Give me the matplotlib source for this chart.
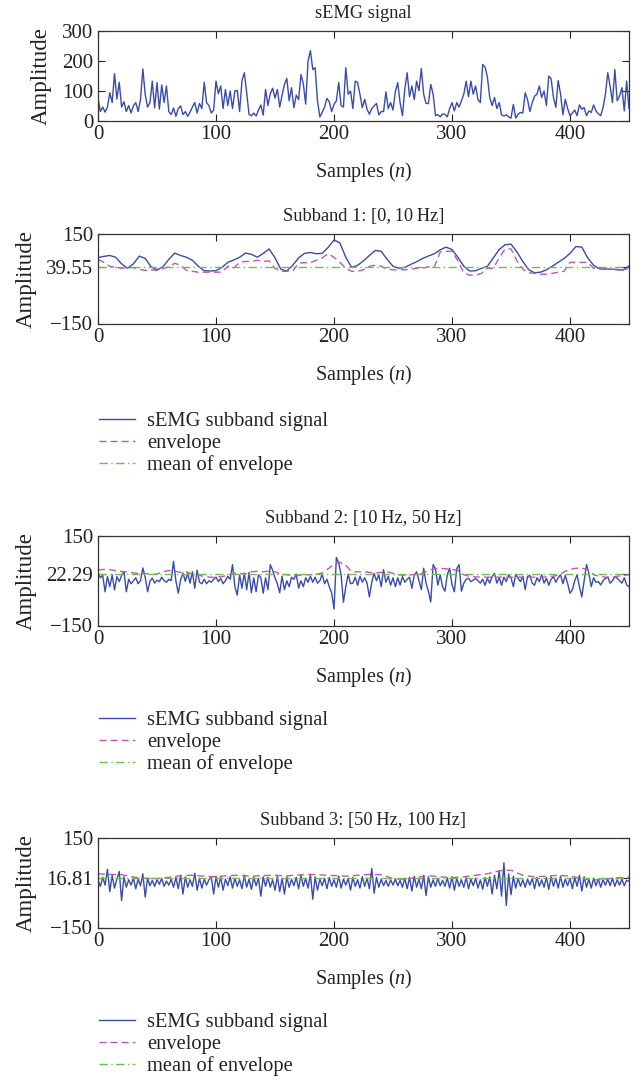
import numpy as np
import matplotlib
matplotlib.use("Agg")
import matplotlib.pyplot as plt

# fonts: serif like the paper
plt.rcParams['font.family'] = ['Liberation Serif', 'DejaVu Serif']
plt.rcParams['mathtext.fontset'] = 'custom'
plt.rcParams['mathtext.rm'] = 'Liberation Serif'
plt.rcParams['mathtext.it'] = 'Liberation Serif:italic'
plt.rcParams['font.size'] = 14.5

# ---------------- data ----------------
# raw sEMG signal, every 2nd sample (n = 0, 2, ..., 450)
raw_values = [
    74, 30, 45, 28, 45, 93, 60, 157, 72, 128,
    45, 63, 30, 50, 25, 49, 60, 30, 70, 173,
    88, 45, 60, 132, 42, 127, 38, 119, 60, 116,
    30, 20, 42, 14, 40, 49, 20, 30, 14, 28,
    45, 60, 25, 57, 40, 128, 60, 50, 25, 35,
    132, 90, 116, 40, 104, 50, 99, 40, 99, 101,
    30, 134, 160, 93, 20, 16, 25, 15, 35, 52,
    18, 104, 50, 90, 108, 75, 104, 45, 85, 121,
    141, 66, 110, 43, 85, 70, 154, 123, 55, 199,
    234, 171, 177, 66, 12, 27, 45, 74, 63, 30,
    54, 66, 127, 50, 45, 177, 88, 99, 40, 132,
    127, 88, 43, 71, 38, 21, 40, 49, 57, 19,
    30, 30, 96, 40, 60, 35, 97, 127, 60, 16,
    105, 160, 80, 116, 70, 132, 100, 174, 88, 57,
    57, 121, 88, 16, 20, 12, 22, 21, 12, 40,
    60, 32, 60, 45, 66, 88, 132, 80, 132, 88,
    116, 70, 60, 188, 179, 146, 77, 50, 77, 40,
    60, 19, 15, 19, 12, 8, 54, 8, 21, 27,
    25, 93, 70, 30, 60, 82, 88, 116, 77, 99,
    50, 149, 140, 77, 44, 134, 88, 19, 71, 40,
    16, 25, 35, 16, 52, 38, 43, 16, 32, 27,
    52, 32, 23, 16, 43, 88, 160, 115, 60, 171,
    66, 82, 110, 32, 132, 40,
]

# subband 1 signal and envelope, every 5th sample
sub1_signal = [
    71, 75, 78, 72, 50, 35, 50, 76, 68, 40,
    30, 40, 65, 86, 78, 72, 62, 42, 27, 26,
    27, 38, 55, 63, 72, 86, 82, 72, 85, 100,
    70, 32, 26, 45, 70, 85, 88, 84, 85, 105,
    130, 120, 72, 38, 45, 60, 78, 95, 92, 65,
    42, 35, 38, 48, 57, 68, 76, 84, 97, 106,
    98, 72, 42, 26, 27, 35, 42, 70, 98, 114,
    116, 90, 58, 30, 20, 22, 30, 42, 55, 68,
    85, 108, 106, 70, 45, 33, 33, 32, 30, 29,
    43,
]
sub1_envelope = [
    65, 55, 42, 38, 35, 38, 37, 32, 28, 30,
    28, 34, 40, 52, 45, 28, 25, 22, 22, 22,
    22, 22, 42, 36, 55, 58, 58, 62, 58, 60,
    35, 25, 25, 25, 52, 54, 54, 62, 70, 84,
    72, 55, 35, 25, 25, 30, 42, 45, 42, 32,
    30, 30, 30, 32, 35, 35, 40, 40, 90, 92,
    92, 60, 20, 12, 12, 18, 35, 35, 70, 100,
    100, 60, 32, 20, 18, 15, 15, 18, 22, 25,
    55, 55, 55, 55, 35, 33, 32, 32, 32, 30,
    35,
]
sub1_mean = 39.55

# subband 2 signal every 2nd sample, envelope every 5th sample
sub2_signal = [
    26, 10, 18, -37, 14, -20, 20, -31, 14, -3,
    18, 31, -37, 5, -10, 0, 10, -10, 0, 43,
    12, -37, -2, 9, -8, 2, -3, 12, 0, -5,
    5, 0, 65, 0, -42, 3, 26, -2, 26, -8,
    30, -25, 35, -5, -10, 5, -10, 0, -5, 5,
    12, -3, 8, -10, 0, 15, 5, 54, -20, -48,
    20, -25, 26, -30, 28, -40, 10, -37, 20, 10,
    -42, 10, -30, 54, 35, 10, -10, -40, 15, -30,
    0, -20, 12, 5, 22, -25, 0, -20, 10, -5,
    15, -5, 12, -8, 0, 22, -10, 5, -20, -40,
    -95, 78, 60, 20, -72, -20, 22, -10, -8, 12,
    -15, 15, -5, 10, -8, -54, -5, 25, 0, 20,
    -20, 37, -5, 15, -15, 10, -20, 10, -15, 14,
    -5, 5, 12, -25, 18, 30, 0, -30, 42, -8,
    -35, -71, 54, 40, -15, 20, -20, -35, 20, 42,
    -13, -37, 40, 54, -35, -8, 5, 8, -3, 2,
    8, 0, -8, 5, -15, 8, -8, 14, 25, -8,
    10, -15, 12, -3, 20, 10, -20, 22, 8, -3,
    15, -30, 14, 18, -8, -15, 10, -3, 20, -8,
    8, -15, 5, 14, -5, 10, 20, -10, 18, -10,
    -42, -30, 0, 20, -20, -54, 0, 54, 25, -20,
    10, -5, -3, -14, 0, 8, 12, -8, 0, 14,
    8, 0, -8, 10, -14, -20,
]
sub2_envelope = [
    36, 38, 37, 34, 31, 30, 26, 25, 24, 22,
    22, 30, 34, 32, 28, 30, 22, 18, 15, 12,
    12, 14, 18, 25, 24, 22, 30, 32, 30, 32,
    30, 22, 20, 18, 18, 20, 20, 22, 26, 40,
    55, 62, 52, 30, 30, 30, 28, 26, 28, 30,
    25, 20, 18, 20, 22, 25, 35, 40, 42, 40,
    38, 35, 20, 14, 13, 12, 12, 12, 12, 12,
    12, 12, 12, 12, 12, 12, 13, 15, 18, 30,
    38, 42, 42, 38, 20, 15, 12, 12, 15, 18,
    20,
]
sub2_mean = 22.29

# subband 3 signal every 2nd sample, envelope every 10th sample
sub3_signal = [
    8, -12, 18, -8, 45, -30, 25, -18, 12, 38,
    -60, 20, -15, 10, -8, 15, -20, 12, -10, 30,
    -48, 15, -10, 8, -12, 10, -5, 15, -12, 6,
    -8, 12, -15, 18, -20, 25, -38, 20, -15, 10,
    -12, 32, -25, 15, -18, 12, -8, 10, 20, -38,
    22, -15, 18, -25, 12, -10, 20, -18, 15, -12,
    10, -20, 25, -15, 12, -22, 18, -10, 15, -45,
    20, -12, 18, -15, 10, -25, 22, -30, 15, -38,
    20, -15, 12, -10, 18, -20, 25, -12, 15, -18,
    28, -55, 20, -25, 12, -10, 15, -20, 18, -12,
    10, -15, 22, -18, 12, -8, 15, -25, 18, -12,
    10, -18, 20, -12, 15, -20, 48, -35, 18, -15,
    12, -10, 8, -12, 10, -8, 12, -10, 8, -15,
    15, -20, 18, -28, 22, -15, 12, -20, 25, -43,
    20, -15, 10, -12, 15, -10, 8, -12, 15, -18,
    20, -25, 15, -12, 10, -15, 18, -20, 12, -10,
    15, -18, 10, -22, 18, -12, 20, -38, 25, -20,
    40, -45, 67, -76, 30, -40, 22, -18, 15, -12,
    10, -15, 12, -8, 15, -20, 18, -12, 10, -15,
    18, -22, 20, -12, 15, -18, 22, -15, 12, -10,
    15, -20, 18, -12, 25, -28, 20, -15, 12, -18,
    15, -10, 12, -15, 10, -8, 12, -10, 15, -12,
    10, -8, 12, -10, 8, 5,
]
sub3_envelope = [
    30, 28, 27, 19, 15, 14, 18, 24, 25, 22,
    20, 24, 25, 22, 24, 25, 23, 26, 28, 26,
    24, 22, 25, 28, 27, 14, 11, 18, 24, 20,
    17, 20, 25, 30, 40, 42, 25, 20, 22, 25,
    22, 14, 9, 12, 17, 18,
]
sub3_mean = 16.81

titles = ["sEMG signal", "Subband 1: [0,\u200910\u2009Hz]",
          "Subband 2: [10\u2009Hz, 50\u2009Hz]", "Subband 3: [50\u2009Hz, 100\u2009Hz]"]
legend_labels = ["sEMG subband signal", "envelope", "mean of envelope"]

# colours
blue = "#3a4ca6"
magenta = "#c356b4"
green = "#6cc244"

# sample axes for each series
n_raw = np.arange(len(raw_values)) * 2
n_sub1 = np.arange(len(sub1_signal)) * 5
n_sub23 = np.arange(len(sub2_signal)) * 2
n_env2 = np.arange(len(sub2_envelope)) * 5
n_env3 = np.arange(len(sub3_envelope)) * 10

fig = plt.figure(figsize=(6.44, 10.87), dpi=100)

W, H = 644.0, 1087.0
left, right = 98 / W, 629 / W
tops = [31, 234, 536, 838]
ax_h = 89.5

axes = []
for t in tops:
    ax = fig.add_axes([left, 1 - (t + ax_h) / H, right - left, ax_h / H])
    axes.append(ax)


def style_axis(ax, title):
    ax.set_xlim(0, 450)
    ax.set_xticks([0, 100, 200, 300, 400])
    ax.tick_params(direction="in", top=True, right=True, length=5, width=0.8,
                   colors="#222222", labelcolor="#222222", labelsize=15)
    for sp in ax.spines.values():
        sp.set_linewidth(0.9)
        sp.set_color("#333333")
    ax.set_title(title, pad=9, color="#222222", fontsize=13.2)
    ax.set_xlabel("Samples ($n$)", labelpad=11, color="#222222")
    ax.set_ylabel("Amplitude", labelpad=7, color="#222222", fontsize=16.5)


# top panel: raw signal
ax = axes[0]
ax.plot(n_raw, raw_values, color=blue, lw=1.0)
ax.set_ylim(0, 300)
ax.set_yticks([0, 100, 200, 300])
style_axis(ax, titles[0])

# subband panels
subbands = [
    (n_sub1, sub1_signal, n_sub1, sub1_envelope, sub1_mean),
    (n_sub23, sub2_signal, n_env2, sub2_envelope, sub2_mean),
    (n_sub23, sub3_signal, n_env3, sub3_envelope, sub3_mean),
]
legend_tops = [412, 711, 1013]

for i, (ns, sig, ne, env, mean) in enumerate(subbands):
    ax = axes[i + 1]
    l1, = ax.plot(ns, sig, color=blue, lw=1.0)
    l2, = ax.plot(ne, env, color=magenta, lw=1.0, ls=(0, (5, 3)))
    l3, = ax.plot([0, 450], [mean, mean], color=green, lw=1.0, ls=(0, (6, 2.5, 1, 2.5)))
    ax.set_ylim(-150, 150)
    ax.set_yticks([-150, mean, 150])
    ax.set_yticklabels(["\u2212150", "%.2f" % mean, "150"])
    style_axis(ax, titles[i + 1])
    ax.legend([l1, l2, l3], legend_labels, loc="upper left",
              bbox_to_anchor=(99 / W, 1 - legend_tops[i] / H),
              bbox_transform=fig.transFigure, frameon=False,
              borderpad=0, borderaxespad=0, handlelength=1.75,
              handletextpad=0.6, labelspacing=0.1, fontsize=14.8,
              labelcolor="#222222")

fig.savefig("out.png", dpi=100)
